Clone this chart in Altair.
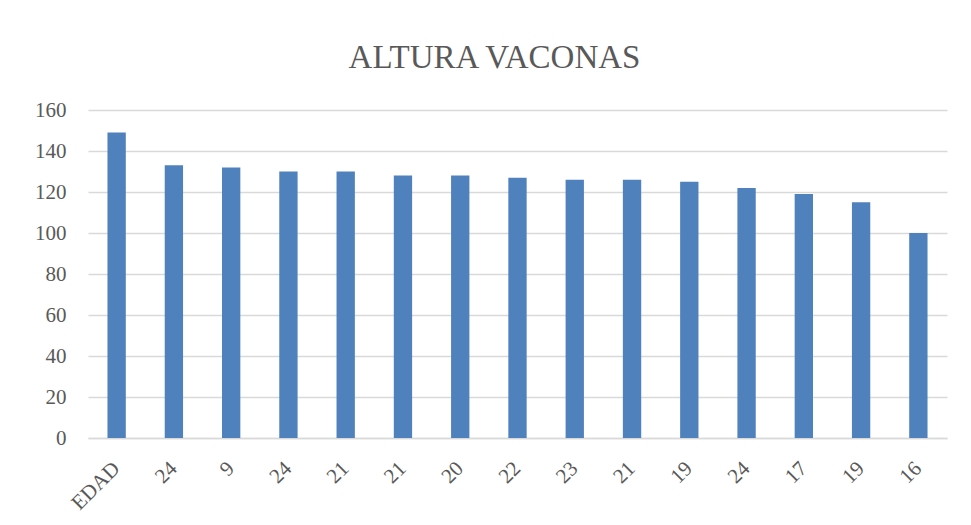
import altair as alt
import pandas as pd

labels = ["EDAD", "24", "9", "24", "21", "21", "20", "22", "23", "21", "19", "24", "17", "19", "16"]
values = [149, 133, 132, 130, 130, 128, 128, 127, 126, 126, 125, 122, 119, 115, 100]

df = pd.DataFrame({
    "idx": list(range(len(labels))),
    "label": labels,
    "value": values,
})

label_expr = "[" + ",".join(f"'{l}'" for l in labels) + "][datum.value]"

chart = alt.Chart(df).mark_bar(color="#4F81BD").encode(
    x=alt.X("idx:O",
            scale=alt.Scale(paddingInner=0.68, paddingOuter=0.34),
            axis=alt.Axis(title=None, labelExpr=label_expr, labelAngle=-45,
                          labelAlign="right", labelBaseline="middle",
                          labelPadding=27, ticks=False, domainColor="#D9D9D9",
                          domainWidth=1.5, labelFont="Liberation Serif",
                          labelFontSize=21, labelColor="#595959")),
    y=alt.Y("value:Q",
            scale=alt.Scale(domain=[0, 160]),
            axis=alt.Axis(title=None, values=list(range(0, 161, 20)), ticks=False,
                          domain=False, gridColor="#D9D9D9", gridWidth=1.5,
                          labelPadding=22, labelFont="Liberation Serif",
                          labelFontSize=21, labelColor="#595959")),
).properties(
    width=859,
    height=328,
    title=alt.TitleParams("ALTURA VACONAS", font="Liberation Serif", fontSize=33,
                          fontWeight="normal", color="#595959", anchor="middle",
                          dx=-23, dy=42, offset=40, baseline="alphabetic"),
    autosize=alt.AutoSizeParams(type="none"),
    padding={"left": 80, "top": 102, "right": 16, "bottom": 80},
).configure_view(stroke=None)

chart.save("out.html", embed_options={"renderer": "svg", "actions": False})
